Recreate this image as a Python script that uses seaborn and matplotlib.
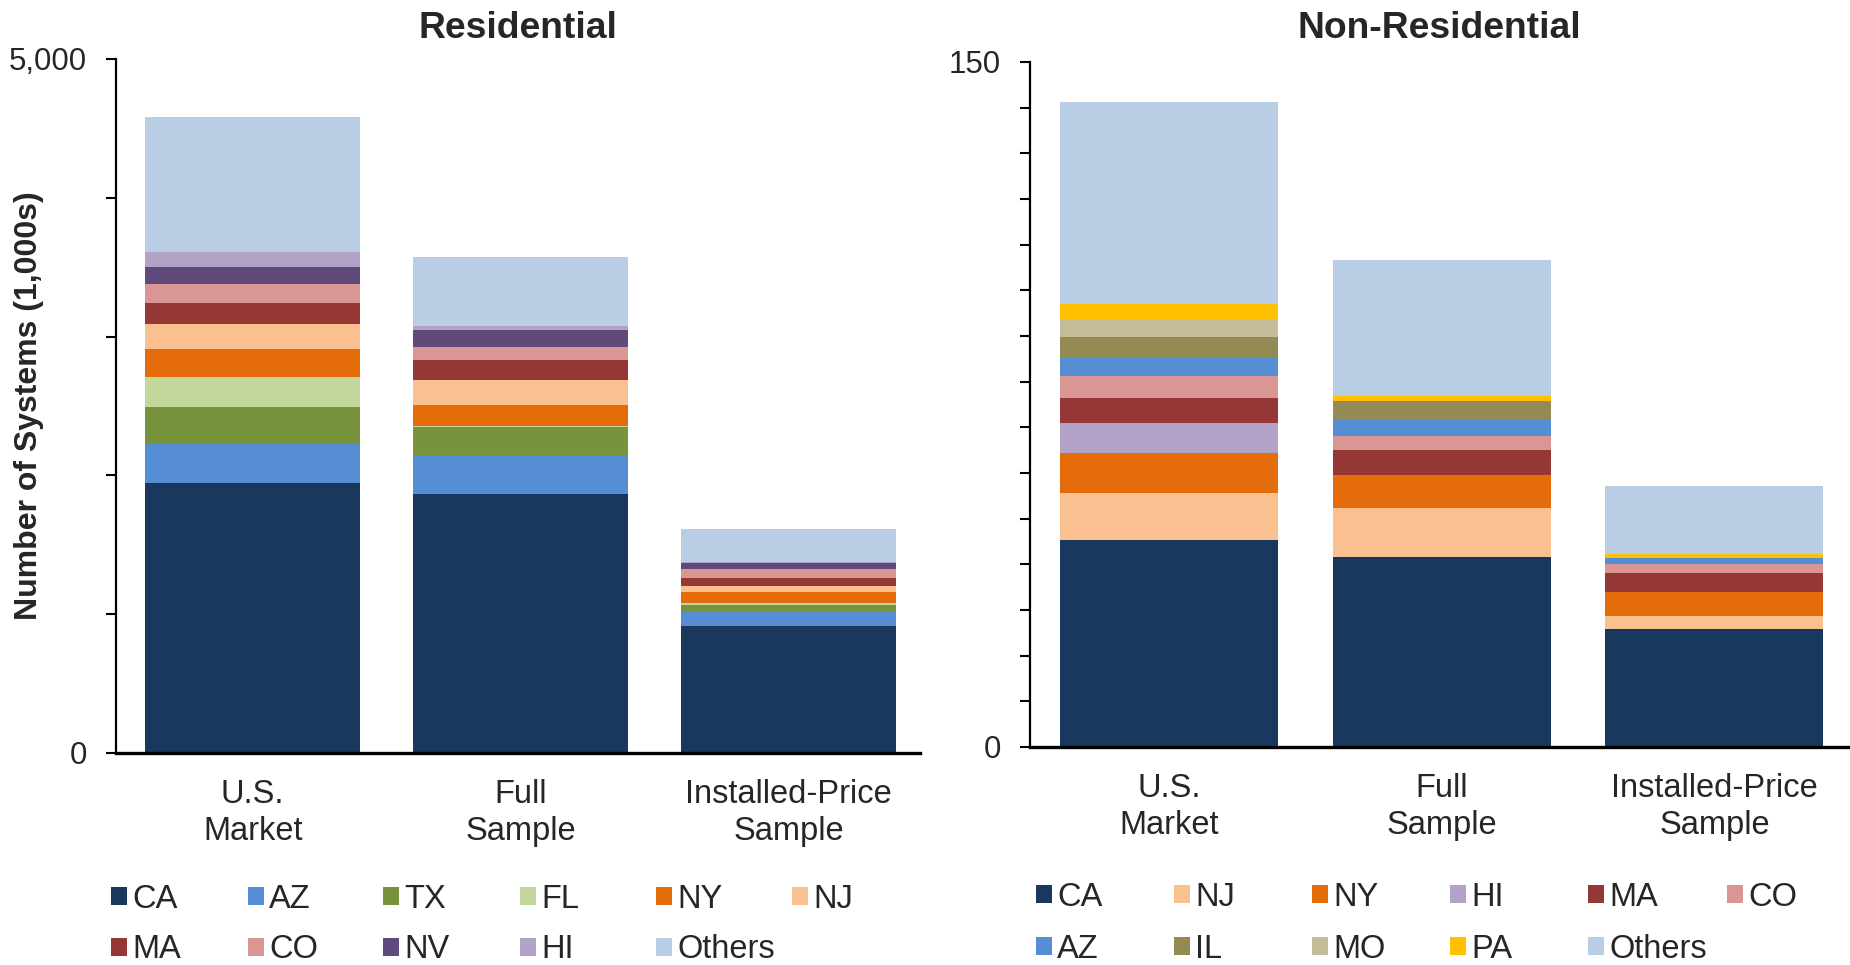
import matplotlib
matplotlib.use("Agg")
import matplotlib.pyplot as plt
from matplotlib.patches import Patch
import numpy as np
import seaborn as sns

# ---------------- data ----------------
categories = ["U.S.\nMarket", "Full\nSample", "Installed-Price\nSample"]

res_states = ["CA", "AZ", "TX", "FL", "NY", "NJ", "MA", "CO", "NV", "HI", "Others"]
res_us_market = [1943, 281, 267, 218, 202, 178, 152, 139, 120, 108, 974]
res_full_sample = [1866, 283, 202, 7, 150, 182, 140, 98, 120, 29, 495]
res_installed_price = [914, 108, 46, 10, 81, 46, 57, 63, 45, 6, 235]

nonres_states = ["CA", "NJ", "NY", "HI", "MA", "CO", "AZ", "IL", "MO", "PA", "Others"]
nonres_us_market = [45.3, 10.3, 8.7, 6.7, 5.5, 4.8, 4.1, 4.3, 3.8, 3.6, 44.1]
nonres_full_sample = [41.7, 10.6, 7.3, 0.0, 5.5, 3.1, 3.3, 4.2, 0.0, 1.1, 29.9]
nonres_installed_price = [25.8, 2.8, 5.3, 0.0, 4.1, 2.0, 1.3, 0.0, 0.0, 1.0, 14.8]

state_colors = {
    "CA": "#1a375e", "AZ": "#558ed5", "TX": "#77933c", "FL": "#c3d69b",
    "NY": "#e46c0a", "NJ": "#fac090", "MA": "#953735", "CO": "#d99694",
    "NV": "#604a7b", "HI": "#b3a2c7", "IL": "#948a54", "MO": "#c4bd97",
    "PA": "#ffc000", "Others": "#b9cde5",
}

panel_titles = ("Residential", "Non-Residential")
res_yticks = [0, 1000, 2000, 3000, 4000, 5000]
res_yticklabels = ["0", "", "", "", "", "5,000"]
nonres_yticks = list(range(0, 151, 10))
nonres_yticklabels = ["0"] + [""] * 14 + ["150"]

# ---------------- style ----------------
sns.set_theme(style="white")
plt.rcParams["font.family"] = ["Liberation Sans", "DejaVu Sans"]

W, H = 1850, 965
fig = plt.figure(figsize=(W / 100, H / 100), dpi=100)


def fx(px):
    return px / W


def fy(py):
    return 1 - py / H


ax1 = fig.add_axes([fx(116), fy(753), fx(920) - fx(116), fy(59) - fy(753)])
ax2 = fig.add_axes([fx(1030), fy(747), fx(1848) - fx(1030), fy(62) - fy(747)])


def stacked(ax, states, columns):
    vals = np.array(columns, dtype=float).T  # shape (n_states, n_cats)
    cum = np.cumsum(vals, axis=0)
    for i in reversed(range(len(states))):
        sns.barplot(x=categories, y=cum[i], color=state_colors[states[i]],
                    saturation=1, width=0.8, linewidth=0, errorbar=None, ax=ax)


stacked(ax1, res_states, [res_us_market, res_full_sample, res_installed_price])
stacked(ax2, nonres_states, [nonres_us_market, nonres_full_sample, nonres_installed_price])

for ax, yt, ytl, ymax, title, tpad in [
    (ax1, res_yticks, res_yticklabels, 5000, panel_titles[0], 15),
    (ax2, nonres_yticks, nonres_yticklabels, 150, panel_titles[1], 17),
]:
    ax.set_ylim(0, ymax)
    ax.set_xlim(-0.51, 2.49)
    ax.set_yticks(yt)
    ax.set_yticklabels(ytl, fontsize=22.5)
    ax.tick_params(axis="y", direction="out", length=7, width=1.5,
                   color="black", pad=14, left=True)
    ax.tick_params(axis="x", length=0, pad=19, labelsize=23.5)
    for lbl in ax.get_xticklabels():
        lbl.set_linespacing(1.22)
    for s in ["top", "right"]:
        ax.spines[s].set_visible(False)
    ax.spines["left"].set_color("black")
    ax.spines["left"].set_linewidth(1.6)
    ax.spines["bottom"].set_color("black")
    ax.spines["bottom"].set_linewidth(2.4)
    ax.set_xlabel("")
    ax.set_ylabel("")
    ax.set_title(title, fontsize=26.8, fontweight="bold", pad=tpad)

ax1.set_ylabel("Number of Systems (1,000s)", fontsize=23, fontweight="bold")
ax1.yaxis.set_label_coords((44 - 116) / (920 - 116), 0.5)

# ---------------- legends ----------------
def legend_entry(state, x_px, y_px):
    h = Patch(facecolor=state_colors[state], edgecolor="none")
    fig.legend(handles=[h], labels=[state], loc="center left",
               bbox_to_anchor=(fx(x_px), fy(y_px)), frameon=False,
               fontsize=23.5, handlelength=0.5, handleheight=0.5,
               handletextpad=0.15, borderpad=0, borderaxespad=0)


res_cols = [111, 248, 383, 520, 656, 792]
res_rows = [899, 950]
res_layout = [["CA", "AZ", "TX", "FL", "NY", "NJ"], ["MA", "CO", "NV", "HI", "Others"]]
for r, row in enumerate(res_layout):
    for c, st in enumerate(row):
        legend_entry(st, res_cols[c], res_rows[r])

nonres_cols = [1036, 1174, 1312, 1450, 1588, 1727]
nonres_rows = [897, 949]
nonres_layout = [["CA", "NJ", "NY", "HI", "MA", "CO"], ["AZ", "IL", "MO", "PA", "Others"]]
for r, row in enumerate(nonres_layout):
    for c, st in enumerate(row):
        legend_entry(st, nonres_cols[c], nonres_rows[r])

fig.savefig("out.png", dpi=100)
